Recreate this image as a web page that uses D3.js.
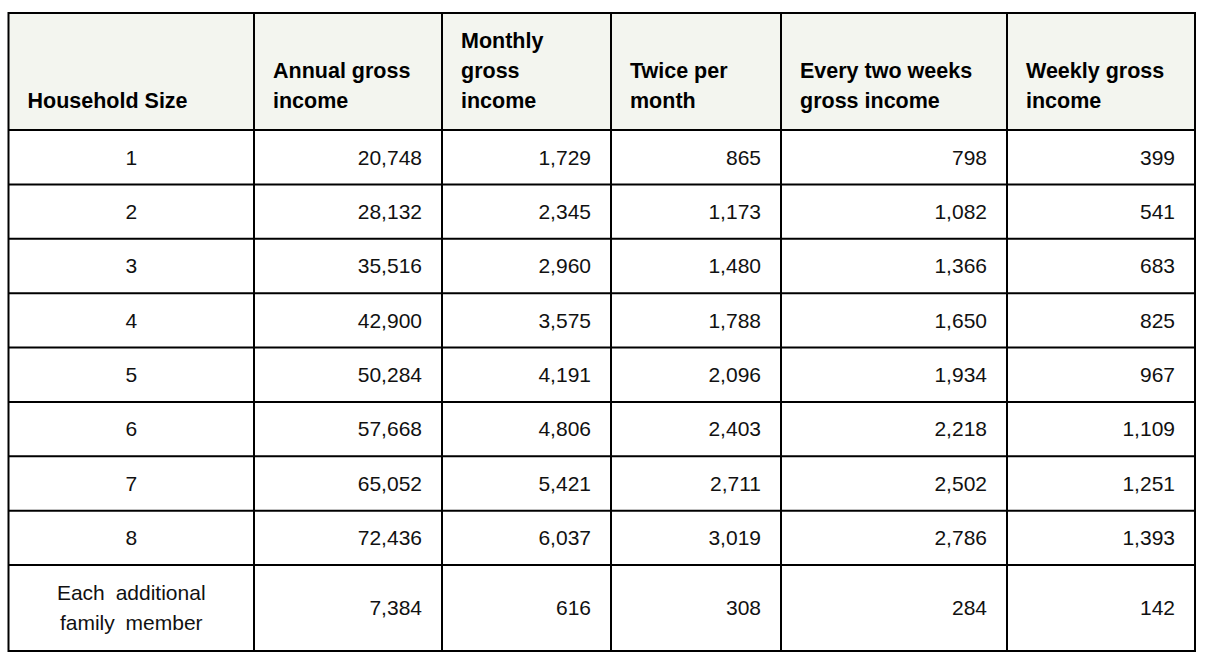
<!DOCTYPE html>
<html>
<head>
<meta charset="utf-8">
<script src="https://cdn.jsdelivr.net/npm/d3@7"></script>
<style>
  body { margin: 0; background: #fff; }
  svg text { font-family: "Liberation Sans", Arial, sans-serif; fill: #111; }
</style>
</head>
<body>
<svg id="chart"></svg>
<script>
// table data
const householdSizes = ["1", "2", "3", "4", "5", "6", "7", "8"];
const extraLabel = ["Each additional", "family member"];
const annualGross = [20748, 28132, 35516, 42900, 50284, 57668, 65052, 72436];
const monthlyGross = [1729, 2345, 2960, 3575, 4191, 4806, 5421, 6037];
const twicePerMonth = [865, 1173, 1480, 1788, 2096, 2403, 2711, 3019];
const everyTwoWeeks = [798, 1082, 1366, 1650, 1934, 2218, 2502, 2786];
const weeklyGross = [399, 541, 683, 825, 967, 1109, 1251, 1393];
const extraMember = [7384, 616, 308, 284, 142];
const headers = [
  ["Household Size"],
  ["Annual gross", "income"],
  ["Monthly", "gross", "income"],
  ["Twice per", "month"],
  ["Every two weeks", "gross income"],
  ["Weekly gross", "income"]
];

const width = 1210, height = 670;
const svg = d3.select("#chart").attr("width", width).attr("height", height);

const fmt = d3.format(",");

// column edges
const colEdges = [8.5, 254, 442, 611, 781, 1007, 1195];
const colX = i => colEdges[i];
const colW = i => colEdges[i + 1] - colEdges[i];

const tableTop = 13, headBottom = 130, bodyBottom = 565, tableBottom = 651;

const y = d3.scaleBand()
  .domain(householdSizes)
  .range([headBottom, bodyBottom])
  .padding(0);

const series = [annualGross, monthlyGross, twicePerMonth, everyTwoWeeks, weeklyGross];

// header background
svg.append("rect")
  .attr("x", colEdges[0]).attr("y", tableTop)
  .attr("width", colEdges[6] - colEdges[0])
  .attr("height", headBottom - tableTop)
  .attr("fill", "#f3f5ef");

// header text, bottom aligned
const lineH = 30;
headers.forEach((lines, i) => {
  const t = svg.append("text")
    .attr("font-size", 21.5)
    .attr("font-weight", "bold")
    .style("fill", "#000");
  lines.forEach((ln, k) => {
    t.append("tspan")
      .attr("x", colX(i) + 19)
      .attr("y", headBottom - 22 - (lines.length - 1 - k) * lineH)
      .text(ln);
  });
});

// body rows
householdSizes.forEach((s, r) => {
  const cy = y(s) + y.bandwidth() / 2;
  svg.append("text")
    .attr("x", colX(0) + colW(0) / 2)
    .attr("y", cy)
    .attr("dy", "0.35em")
    .attr("text-anchor", "middle")
    .attr("font-size", 21)
    .text(s);
  series.forEach((vals, c) => {
    svg.append("text")
      .attr("x", colEdges[c + 2] - 20)
      .attr("y", cy)
      .attr("dy", "0.35em")
      .attr("text-anchor", "end")
      .attr("font-size", 21)
      .text(fmt(vals[r]));
  });
});

// last row
const lastCy = (bodyBottom + tableBottom) / 2;
const lt = svg.append("text")
  .attr("text-anchor", "middle")
  .attr("font-size", 21)
  .attr("word-spacing", 5);
extraLabel.forEach((ln, k) => {
  lt.append("tspan")
    .attr("x", colX(0) + colW(0) / 2)
    .attr("y", lastCy - 15 + k * 30)
    .attr("dy", "0.35em")
    .text(ln);
});
extraMember.forEach((v, c) => {
  svg.append("text")
    .attr("x", colEdges[c + 2] - 20)
    .attr("y", lastCy)
    .attr("dy", "0.35em")
    .attr("text-anchor", "end")
    .attr("font-size", 21)
    .text(fmt(v));
});

// grid lines
const hLines = [tableTop, headBottom, ...householdSizes.slice(1).map(s => y(s)), bodyBottom, tableBottom];
svg.append("g")
  .selectAll("line")
  .data(hLines)
  .join("line")
  .attr("x1", colEdges[0]).attr("x2", colEdges[6])
  .attr("y1", d => d).attr("y2", d => d)
  .attr("stroke", "#000")
  .attr("stroke-width", 2);

svg.append("g")
  .selectAll("line")
  .data(colEdges)
  .join("line")
  .attr("x1", d => d).attr("x2", d => d)
  .attr("y1", tableTop - 1).attr("y2", tableBottom + 1)
  .attr("stroke", "#000")
  .attr("stroke-width", 2);
</script>
</body>
</html>
